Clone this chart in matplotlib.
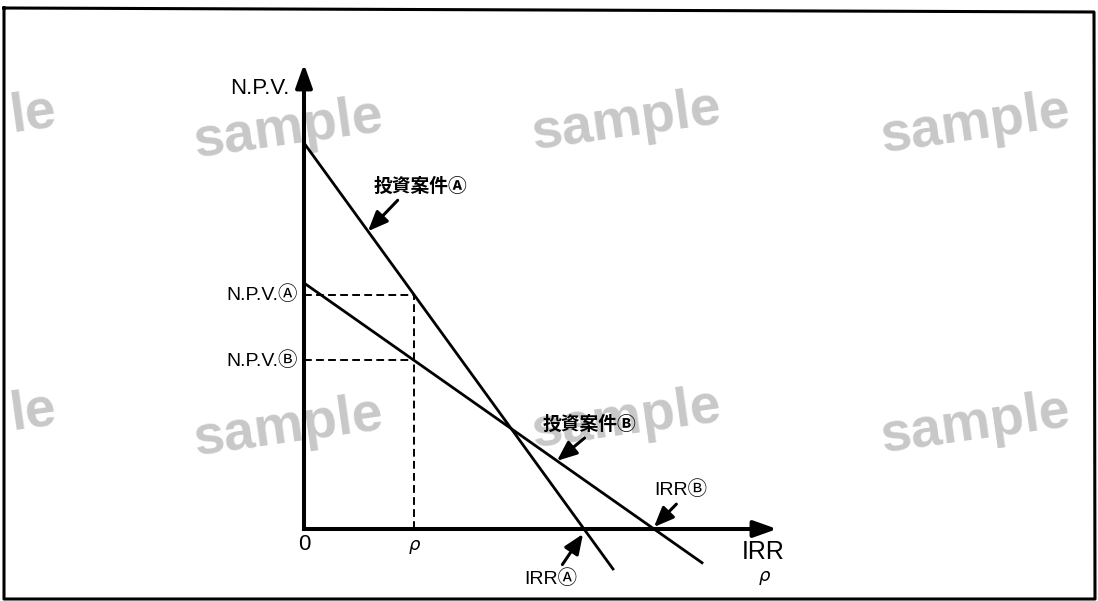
import matplotlib
matplotlib.use("Agg")
import matplotlib.pyplot as plt
import numpy as np

# --- data (units: 1 unit = 10 px) ---
rho = 11.0                       # hurdle rate on the x axis
irr = {"A": 28.0, "B": 35.0}     # where each project crosses the axis
npv0 = {"A": 38.6, "B": 24.6}    # N.P.V. at a zero rate
rate_end = {"A": 30.9, "B": 39.8}
axis_len = (47.3, 46.5)          # x axis, y axis

def npv(p, r):
    return npv0[p] * (1 - np.asarray(r) / irr[p])

JP = ["Noto Sans CJK JP", "DejaVu Sans"]
LAT = ["Liberation Sans", "Noto Sans CJK JP", "DejaVu Sans"]

fig = plt.figure(figsize=(10.98, 6.01), dpi=100)
ax = fig.add_axes([0, 0, 1, 1])
ax.set_xlim(-30.4, 79.4)
ax.set_ylim(-7.2, 52.9)
ax.axis("off")

# watermark (the left column only shows its last two letters)
wm = dict(transform=ax.transAxes, fontsize=40, fontweight="bold",
          family="Liberation Sans", color="#c8c8c8", rotation=8,
          rotation_mode="anchor", va="center", zorder=0)
for cx, cy in [(288, 130), (626, 122), (975, 125),
               (288, 428), (626, 420), (975, 425)]:
    ax.text(cx / 1098, 1 - cy / 601, "sample", ha="center", **wm)
for cx, cy in [(56, 111), (56, 409)]:
    ax.text(cx / 1098, 1 - cy / 601, "le", ha="right", **wm)

# outer frame
ax.plot(np.array([4, 1094, 1095, 4, 4]) / 1098,
        1 - np.array([8, 12, 599, 599, 8]) / 601,
        transform=ax.transAxes, color="k", lw=2.2, zorder=1)

# axes with arrows
ax.plot([0, 0], [0, axis_len[1] - 1.5], color="k", lw=2.9, solid_capstyle="projecting", zorder=3)
ax.plot([0, axis_len[0] - 1.5], [0, 0], color="k", lw=2.9, solid_capstyle="projecting", zorder=3)
head = dict(arrowstyle="-|>,head_length=0.7,head_width=0.25", color="k",
            lw=2.9, mutation_scale=20, shrinkA=0, shrinkB=0)
ax.annotate("", xy=(0, axis_len[1]), xytext=(0, axis_len[1] - 2.5), arrowprops=head, zorder=3)
ax.annotate("", xy=(axis_len[0], 0), xytext=(axis_len[0] - 2.5, 0), arrowprops=head, zorder=3)

# project lines
for p in ["A", "B"]:
    r = np.array([0, rate_end[p]])
    ax.plot(r, npv(p, r), color="k", lw=2.0, zorder=2)

# dashed guides at rho
dash = dict(color="k", lw=1.4, linestyle=(0, (4, 2.2)), zorder=2)
ax.plot([rho, rho], [0, npv("A", rho)], **dash)
for p in ["A", "B"]:
    ax.plot([0, rho], [npv(p, rho)] * 2, **dash)

# labels
ax.text(-1.4, 44.0, "N.P.V.", family=LAT, fontsize=16, ha="right", va="center")
ax.text(-0.6, npv("A", rho), "N.P.V.Ⓐ", family=LAT, fontsize=14, ha="right", va="center")
ax.text(-0.6, npv("B", rho), "N.P.V.Ⓑ", family=LAT, fontsize=14, ha="right", va="center")
ax.text(0, -1.6, "0", family=LAT, fontsize=16, ha="center", va="center")
ax.text(rho, -1.6, "ρ", family="DejaVu Sans", style="italic", fontsize=13, ha="center", va="center")
ax.text(45.9, -2.3, "IRR", family=LAT, fontsize=18, ha="center", va="center")
ax.text(46.0, -4.7, "ρ", family="DejaVu Sans", style="italic", fontsize=13, ha="center", va="center")

pointer = dict(arrowstyle="-|>,head_length=0.6,head_width=0.25", color="k",
               lw=2.2, mutation_scale=20, shrinkA=2, shrinkB=0)
ax.annotate("投資案件Ⓐ", xy=(6.4, npv("A", 6.4)), xytext=(11.7, 34.3),
            family=JP, fontsize=13.5, fontweight="bold", ha="center", va="center",
            arrowprops=dict(pointer, relpos=(0.3, 0.0)))
ax.annotate("投資案件Ⓑ", xy=(25.3, npv("B", 25.3)), xytext=(28.6, 10.5),
            family=JP, fontsize=13.5, fontweight="bold", ha="center", va="center",
            arrowprops=dict(pointer, relpos=(0.5, 0.0)))
ax.annotate("IRRⒷ", xy=(irr["B"], 0.2), xytext=(37.7, 3.9),
            family=LAT, fontsize=14, ha="center", va="center",
            arrowprops=dict(pointer, relpos=(0.5, 0.0)))
ax.annotate("IRRⒶ", xy=(irr["A"] - 0.1, -0.5), xytext=(24.7, -5.0),
            family=LAT, fontsize=14, ha="center", va="center",
            arrowprops=dict(pointer, relpos=(0.65, 1.0)))

fig.savefig("out.png", dpi=100)
